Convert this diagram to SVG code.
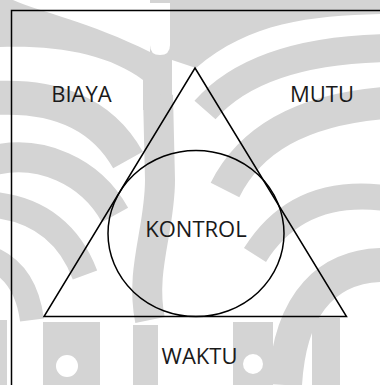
<svg xmlns="http://www.w3.org/2000/svg" width="380" height="385" viewBox="0 0 380 385">
  <style>
    .wm { fill: #d4d4d4; stroke: none; }
    .wmS { fill: none; stroke: #d4d4d4; }
    .ln { fill: none; stroke: #000000; stroke-width: 1.5; }
    .lbl { font-family: "Open Sans", "Liberation Sans", sans-serif; font-size: 22px; fill: #1a1a1a; text-anchor: middle; }
  </style>
  <rect width="380" height="385" fill="#ffffff"/>
  <g id="watermark">
    <!-- top strip -->
    <path class="wm" d="M0,0 L13,0 C40,12 90,22 150,52 L150,0 L380,0 L380,14 C310,16 250,22 196,68 L172,60 L172,110 L143,110 L143,80 C110,55 60,45 0,47 Z"/>
    <!-- left ribs -->
    <path class="wmS" stroke-width="34" d="M-5,98 C50,95 100,110 128,160"/>
    <path class="wmS" stroke-width="30" d="M-5,160 C40,150 90,170 115,215"/>
    <path class="wmS" stroke-width="26" d="M-5,205 C40,210 70,235 85,275"/>
    <path class="wmS" stroke-width="24" d="M-5,260 C15,270 28,290 32,320"/>
    <!-- center stem -->
    <path class="wmS" stroke-width="30" d="M158,95 L160,180 C160,230 140,270 150,320"/>
    <!-- right ribs -->
    <path class="wmS" stroke-width="28" d="M385,48 C300,50 240,70 205,110"/>
    <path class="wmS" stroke-width="32" d="M385,103 C300,110 250,140 225,190"/>
    <path class="wmS" stroke-width="26" d="M385,198 C320,190 280,215 255,255"/>
    <path class="wmS" stroke-width="34" d="M385,265 C330,265 290,300 285,385"/>
    <!-- bottom bars -->
    <rect class="wm" x="43" y="322" width="57" height="63"/>
    <rect class="wm" x="133" y="325" width="25" height="60"/>
    <rect class="wm" x="233" y="322" width="40" height="63"/>
    <rect class="wm" x="312" y="318" width="28" height="67"/>
    <rect class="wm" x="0" y="320" width="7" height="65"/>
    <circle cx="67" cy="366" r="11" fill="#ffffff"/>
    <circle cx="253" cy="364" r="10" fill="#ffffff"/>
    <!-- pill -->
    <path d="M150,3 L170,3 L170,45 Q170,55 160,55 Q150,55 150,45 Z" fill="#ffffff"/>
  </g>
  <g id="frame">
    <path class="ln" d="M11.5,385 L11.5,10.5 L380,10.5"/>
  </g>
  <g id="connectors">
    <path id="triangle" class="ln" d="M195,68 L346.5,316.5 L44,316.5 Z" stroke-linejoin="miter"/>
  </g>
  <g id="node-kontrol">
    <ellipse class="ln" cx="196" cy="233.5" rx="88" ry="83"/>
    <text class="lbl" x="196" y="237">KONTROL</text>
  </g>
  <g id="node-biaya">
    <text class="lbl" x="81.5" y="102">BIAYA</text>
  </g>
  <g id="node-mutu">
    <text class="lbl" x="322" y="102">MUTU</text>
  </g>
  <g id="node-waktu">
    <text class="lbl" x="199.5" y="364">WAKTU</text>
  </g>
</svg>
